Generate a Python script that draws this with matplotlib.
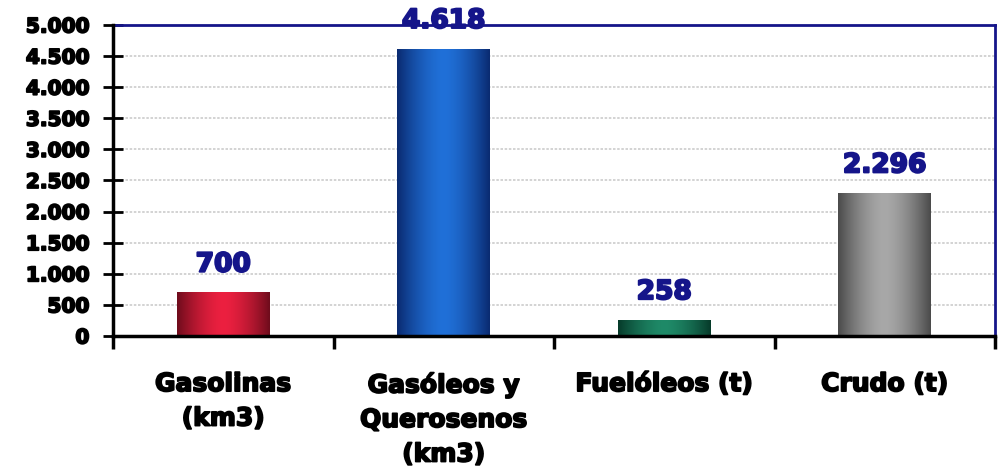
import numpy as np
import matplotlib.pyplot as plt
import matplotlib.patheffects as pe
from matplotlib.colors import LinearSegmentedColormap
from matplotlib.ticker import FuncFormatter, MultipleLocator

categorias = ['Gasolinas\n(km3)', 'Gasóleos y\nQuerosenos\n(km3)', 'Fuelóleos (t)', 'Crudo (t)']
valores = [700, 4618, 258, 2296]
etiquetas = ['700', '4.618', '258', '2.296']
# (borde, centro) de cada barra, efecto cilindro
colores = [('#6e0c1c', '#ec2040'), ('#0a2a70', '#2070d8'),
           ('#063a2a', '#1f8a68'), ('#4a4a4a', '#a8a8a8')]

plt.rcParams['font.family'] = ['DejaVu Sans']
plt.rcParams['font.weight'] = 'bold'

negrita = [pe.withStroke(linewidth=1.3, foreground='black')]
azul = '#15158a'

fig = plt.figure(figsize=(9.99, 4.73), dpi=100)
ax = fig.add_axes([113/999, 1 - 336/473, (995 - 113)/999, (336 - 25)/473])

x = np.arange(len(valores))
bars = ax.bar(x, valores, width=0.42, color='none', zorder=3)

grad = np.linspace(-1, 1, 256)
grad = 1 - np.abs(grad) ** 1.6
for b, (c_borde, c_centro) in zip(bars, colores):
    cmap = LinearSegmentedColormap.from_list('g', [c_borde, c_centro])
    x0, y0 = b.get_x(), b.get_y()
    w, h = b.get_width(), b.get_height()
    im = ax.imshow(grad[np.newaxis, :], cmap=cmap, aspect='auto',
                   extent=[x0, x0 + w, y0, y0 + h], zorder=3, interpolation='bicubic')
    im.set_clip_path(b)

for xi, v, t in zip(x, valores, etiquetas):
    ax.annotate(t, (xi, v), xytext=(0, 15), textcoords='offset points',
                ha='center', va='baseline', fontsize=19, fontweight='bold',
                color=azul, zorder=5, annotation_clip=False,
                path_effects=[pe.withStroke(linewidth=1.5, foreground=azul)])

ax.set_xlim(-0.5, 3.5)
ax.set_ylim(0, 5000)
ax.yaxis.set_major_locator(MultipleLocator(500))
ax.yaxis.set_major_formatter(FuncFormatter(lambda v, p: f'{int(v):,}'.replace(',', '.')))
ax.grid(axis='y', color='#cccccc', linestyle=(0, (1.5, 1)), linewidth=1.2, zorder=0)

ax.set_xticks(x)
ax.set_xticklabels(categorias, fontsize=18, fontweight='bold', linespacing=1.55)
ax.set_xticks(np.arange(-0.5, 4, 1), minor=True)
ax.tick_params(axis='x', which='major', length=0, pad=26)
ax.tick_params(axis='x', which='minor', length=9, width=2.5, direction='out', color='black')
ax.tick_params(axis='y', length=14, width=2, direction='inout', labelsize=14.5, pad=10)
for lab in ax.get_yticklabels() + ax.get_xticklabels():
    lab.set_fontweight('bold')
    lab.set_path_effects(negrita)

for s in ['left', 'bottom']:
    ax.spines[s].set_linewidth(2.5)
    ax.spines[s].set_color('black')
    ax.spines[s].set_zorder(4)
for s in ['top', 'right']:
    ax.spines[s].set_linewidth(2)
    ax.spines[s].set_color(azul)

fig.savefig('out.png', dpi=100)
